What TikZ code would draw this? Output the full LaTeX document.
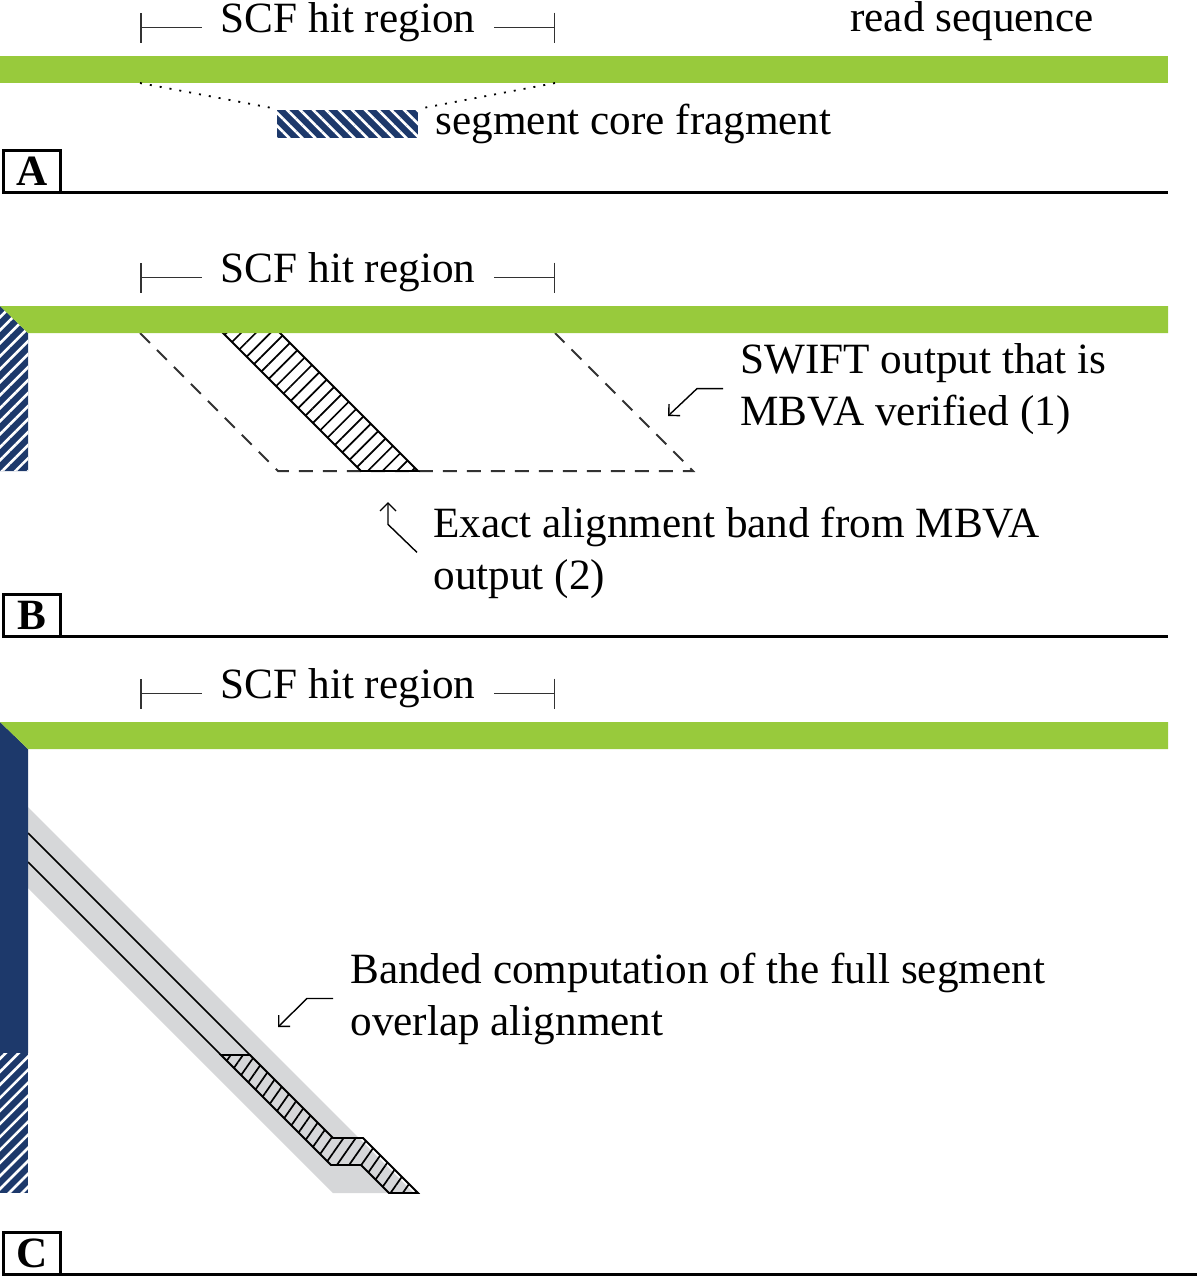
\documentclass[tikz,border=0pt]{standalone}
\usepackage{fontspec}
\setmainfont{Liberation Serif}
\usetikzlibrary{arrows.meta, patterns.meta, positioning, calc}
\definecolor{readgreen}{RGB}{152, 202, 60}
\definecolor{segnavy}{RGB}{29, 57, 107}
\definecolor{bandgray}{RGB}{214, 215, 217}
\definecolor{hitgray}{RGB}{50, 50, 50}

\tikzset{
  navyhatch/.style={preaction={fill=segnavy}, pattern={Lines[angle=#1, distance=4.6pt, line width=1.3pt]}, pattern color=white},
  bandhatch/.style args={#1/#2}{draw=black, line width=0.9pt, pattern={Lines[angle=#1, distance=#2, line width=0.85pt]}, pattern color=black},
}

\begin{document}
\begin{tikzpicture}[x=0.5pt, y=-0.5pt,
  every node/.style={font=\fontsize{21.6}{26}\selectfont, inner sep=0pt},
  txt/.style={anchor=base west, align=left},
  hitlabel/.style={anchor=base, inner xsep=9pt},
  hitbar/.style={arrows={Bar[width=15pt]-}, line width=0.75pt, hitgray},
  tagbox/.style={draw, line width=1.5pt, outer sep=0pt, minimum width=28.5pt, minimum height=21pt, font=\fontsize{21.6}{26}\selectfont\bfseries},
  rule/.style={line width=1.5pt},
  swiftbox/.style={dash pattern=on 7pt off 5pt, line width=1pt, hitgray},
  pointer/.style={line width=0.7pt, arrows={-Straight Barb[length=4pt, width=8pt]}},
  trace/.style={line width=0.8pt}]
  \useasboundingbox (0,0) rectangle (1197,1280);

  % SCF hit region headers
  \foreach \n/\dy in {A/0, B/250, C/666} {
    \coordinate (hitL\n) at (140, \dy+27.5);
    \coordinate (hitR\n) at (555, \dy+27.5);
    \node[hitlabel] (scf\n) at (348, \dy+32) {SCF hit region};
    \draw[hitbar] (hitL\n) -- (hitL\n -| scf\n.west);
    \draw[hitbar] (hitR\n) -- (hitR\n -| scf\n.east);
  }

  % Panel tags and separators
  \foreach \n/\ty/\rx in {A/171/1168, B/615/1168, C/1253/1197} {
    \node[tagbox] (tag\n) at (32, \ty) {\n};
    \coordinate (rule\n) at (\rx, \ty+21);
    \draw[rule] (tag\n.south east) -- (rule\n);
  }

  % Panel A
  \fill[readgreen] (0,56) rectangle (1168,83);
  \node[txt] (readseq) at (850,31) {read sequence};
  \node[navyhatch=-45, minimum width=70.5pt, minimum height=14pt] (frag) at (347.5,124) {};
  \node[right=8pt of frag] (segcore) {segment core fragment};
  \coordinate (cutL) at (140,83);
  \coordinate (cutR) at (555,83);
  \draw[dash pattern=on 1pt off 4pt, line width=0.9pt] (cutL) -- (frag.north west);
  \draw[dash pattern=on 1pt off 4pt, line width=0.9pt] (cutR) -- (frag.north east);

  % Panel B
  \draw[swiftbox] (140,333) -- (278,471) -- (693,471) -- (555,333);
  \draw[bandhatch=45/5.2pt] (220,330) -- (277,330) -- (418,471) -- (361,471) -- cycle;
  \path[navyhatch=45] (0,306) -- (28,333) -- (28,471) -- (0,471) -- cycle;
  \fill[readgreen] (0,306) -- (1168,306) -- (1168,333) -- (28,333) -- cycle;

  \node[txt] (swift) at (740,425) {SWIFT output that is\\MBVA verified (1)};
  \coordinate (swiftTip) at (668,416);
  \draw[pointer] ([xshift=-8.5pt]swift.west) -- ++(-26,0) -- (swiftTip);

  \node[txt] (exact) at (433,589) {Exact alignment band from MBVA\\output (2)};
  \coordinate (exactTip) at (388,502);
  \draw[pointer] ([xshift=-8pt]exact.west) -- ++(-29,-28) -- (exactTip);

  % Panel C
  \fill[bandgray] (28,807) -- (414,1193) -- (333,1193) -- (28,888) -- cycle;
  \draw[trace] (28,833) -- (250,1055);
  \draw[trace] (28,862) -- (221,1055);
  \draw[bandhatch=55/5pt] (221,1055) -- (250,1055) -- (333,1138) -- (363,1138) -- (418,1193)
    -- (389,1193) -- (361,1165) -- (331,1165) -- cycle;
  \fill[segnavy] (0,722) -- (28,749) -- (28,1053) -- (0,1053) -- cycle;
  \path[navyhatch=45] (0,1053) rectangle (28,1193);
  \fill[readgreen] (0,722) -- (1168,722) -- (1168,749) -- (28,749) -- cycle;

  \node[txt] (banded) at (350,1035) {Banded computation of the full segment\\overlap alignment};
  \coordinate (bandTip) at (278,1027);
  \draw[pointer] ([xshift=-8.5pt]banded.west) -- ++(-26,0) -- (bandTip);
\end{tikzpicture}
\end{document}
